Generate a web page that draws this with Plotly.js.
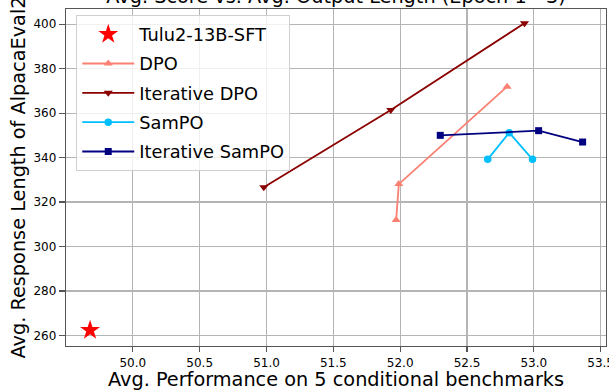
<!DOCTYPE html>
<html>
<head>
<meta charset="utf-8">
<script src="https://cdn.plot.ly/plotly-3.0.1.min.js"></script>
<style>html,body{margin:0;padding:0;background:#fff;}#chart{width:609px;height:391px;}</style>
</head>
<body>
<div id="chart"></div>
<script>
// Data
var sftName = "Tulu2-13B-SFT";
var sftX = [49.68];
var sftY = [262.4];

var dpoName = "DPO";
var dpoX = [51.97, 51.99, 52.80];
var dpoY = [311.9, 328.1, 371.9];

var iterDpoName = "Iterative DPO";
var iterDpoX = [50.98, 51.93, 52.93];
var iterDpoY = [326.7, 361.4, 400.4];

var sampoName = "SamPO";
var sampoX = [52.655, 52.816, 52.99];
var sampoY = [339.2, 351.2, 339.2];

var iterSampoName = "Iterative SamPO";
var iterSampoX = [52.30, 53.036, 53.365];
var iterSampoY = [350.0, 352.1, 347.0];

var xTicks = [50.0, 50.5, 51.0, 51.5, 52.0, 52.5, 53.0, 53.5];
var xTickText = ["50.0", "50.5", "51.0", "51.5", "52.0", "52.5", "53.0", "53.5"];
var yTicks = [260, 280, 300, 320, 340, 360, 380, 400];

var titleText = "Avg. Score vs. Avg. Output Length (Epoch 1 - 3)";
var xTitle = "Avg. Performance on 5 conditional benchmarks";
var yTitle = "Avg. Response Length of AlpacaEval2";

var FONT = "DejaVu Sans, sans-serif";

var traces = [
  {x: sftX, y: sftY, name: sftName, type: "scatter", mode: "markers", legendgroup: "a",
   marker: {symbol: "star", size: 15, color: "#ff0000"}},
  {x: dpoX, y: dpoY, name: dpoName, type: "scatter", mode: "lines+markers", legendgroup: "b",
   line: {color: "#fa8072", width: 1.8}, marker: {symbol: "triangle-up", size: 8, color: "#fa8072"}},
  {x: iterDpoX, y: iterDpoY, name: iterDpoName, type: "scatter", mode: "lines+markers", legendgroup: "c",
   line: {color: "#8b0000", width: 1.8}, marker: {symbol: "triangle-down", size: 8, color: "#8b0000"}},
  {x: sampoX, y: sampoY, name: sampoName, type: "scatter", mode: "lines+markers", legendgroup: "d",
   line: {color: "#00bfff", width: 1.8}, marker: {symbol: "circle", size: 7.5, color: "#00bfff"}},
  {x: iterSampoX, y: iterSampoY, name: iterSampoName, type: "scatter", mode: "lines+markers", legendgroup: "e",
   line: {color: "#000080", width: 1.8}, marker: {symbol: "square", size: 7, color: "#000080"}}
];

var layout = {
  width: 609, height: 391,
  margin: {l: 66, r: 3, t: 9, b: 45, pad: 0},
  paper_bgcolor: "#ffffff", plot_bgcolor: "#ffffff",
  font: {family: FONT, color: "#000000"},
  title: {text: titleText, font: {family: FONT, size: 19.3, color: "#000"},
          xref: "paper", x: 0.5, xanchor: "center", yref: "container", y: 1 - 3/391, yanchor: "bottom"},
  showlegend: true,
  legend: {x: 0.019, y: 0.982, xanchor: "left", yanchor: "top",
           bgcolor: "rgba(255,255,255,0.8)", bordercolor: "#d0d0d0", borderwidth: 1,
           font: {family: FONT, size: 17.8, color: "#000"}, itemwidth: 52, tracegroupgap: 3.2,
           traceorder: "grouped"},
  xaxis: {range: [49.50, 53.54], tickvals: xTicks, ticktext: xTickText,
          showgrid: true, gridcolor: "#b4b4b4", gridwidth: 1.2, zeroline: false,
          showline: true, mirror: true, linecolor: "#555555", linewidth: 1.3,
          ticks: "outside", ticklen: 5, tickwidth: 1.2, tickcolor: "#555555",
          ticklabeloverflow: "allow",
          tickfont: {family: FONT, size: 12, color: "#000"},
          title: {text: xTitle, font: {family: FONT, size: 19.3, color: "#000"}, standoff: 1},
          automargin: false},
  yaxis: {range: [255.3, 406.8], tickvals: yTicks,
          showgrid: true, gridcolor: "#b4b4b4", gridwidth: 1.2, zeroline: false,
          showline: true, mirror: true, linecolor: "#555555", linewidth: 1.3,
          ticks: "outside", ticklen: 6, tickwidth: 1.2, tickcolor: "#555555",
          tickfont: {family: FONT, size: 12, color: "#000"},
          title: {text: yTitle, font: {family: FONT, size: 19.3, color: "#000"}, standoff: 2},
          automargin: false}
};

Plotly.newPlot("chart", traces, layout, {displayModeBar: false, staticPlot: true});
</script>
</body>
</html>
